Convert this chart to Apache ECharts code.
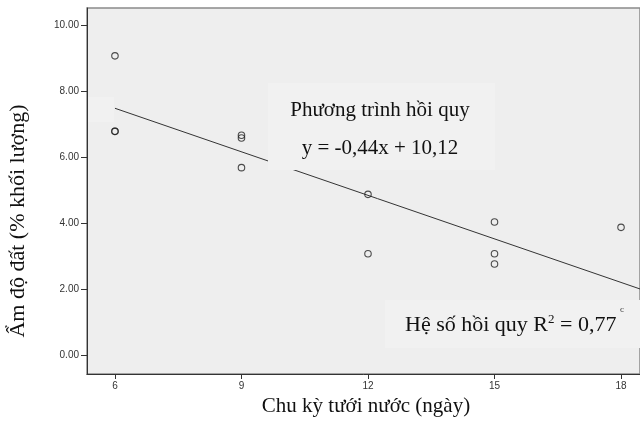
<!DOCTYPE html>
<html>
<head>
<meta charset="utf-8">
<script src="https://cdn.jsdelivr.net/npm/echarts@6/dist/echarts.min.js"></script>
<style>
html,body{margin:0;padding:0;background:#fff;}
#chart{width:640px;height:421px;}
</style>
</head>
<body>
<div id="chart"></div>
<script>
// Data
const cycleDays = [6, 6, 6, 9, 9, 9, 12, 12, 15, 15, 15, 18];
const soilMoisture = [9.07, 6.78, 6.78, 6.66, 6.58, 5.68, 4.87, 3.07, 4.03, 3.07, 2.76, 3.87];
const xTicks = [6, 9, 12, 15, 18];
const yTicks = [0, 2, 4, 6, 8, 10];
const regSlope = -0.44;
const regIntercept = 10.12;
const regXRange = [6, 18.45];
const xTitle = 'Chu kỳ tưới nước (ngày)';
const yTitle = 'Ẩm độ đất (% khối lượng)';

const points = cycleDays.map((x, i) => [x, soilMoisture[i]]);
const regLine = regXRange.map(x => [x, regSlope * x + regIntercept]);

const chart = echarts.init(document.getElementById('chart'), null, {renderer: 'canvas'});
const serif = '"Liberation Serif", "Times New Roman", serif';
const sans = '"Liberation Sans", Arial, sans-serif';

chart.setOption({
  animation: false,
  backgroundColor: '#ffffff',
  grid: {
    left: 87, top: 8, right: -2, bottom: 47,
    show: true, backgroundColor: '#eeeeee', borderColor: '#8a8a8a', borderWidth: 1.5
  },
  xAxis: {
    type: 'value', min: 5.337, max: 18.45,
    axisLine: {show: true, onZero: false, lineStyle: {color: '#333', width: 1}},
    axisTick: {show: true, length: 5, lineStyle: {color: '#333'}, customValues: xTicks},
    axisLabel: {customValues: xTicks, margin: 7, fontFamily: sans, fontSize: 10, color: '#333'},
    splitLine: {show: false}
  },
  yAxis: {
    type: 'value', min: -0.576, max: 10.52,
    axisLine: {show: true, onZero: false, lineStyle: {color: '#333', width: 1}},
    axisTick: {show: true, length: 6, lineStyle: {color: '#333'}, customValues: yTicks},
    axisLabel: {customValues: yTicks, margin: 8, fontFamily: sans, fontSize: 10, color: '#333',
      formatter: v => v.toFixed(2)},
    splitLine: {show: false}
  },
  series: [
    {
      type: 'line', data: regLine, symbol: 'none', z: 2,
      lineStyle: {color: '#333', width: 1}
    },
    {
      type: 'scatter', data: points, symbol: 'circle', symbolSize: 6.5, z: 3,
      itemStyle: {color: 'rgba(0,0,0,0)', borderColor: '#222', borderWidth: 1.1}
    }
  ],
  graphic: [
    {type: 'rect', z: 50, shape: {x: 88, y: 97, width: 26, height: 25}, style: {fill: '#f1f1f1'}},
    {type: 'rect', z: 50, shape: {x: 268, y: 83, width: 227, height: 87}, style: {fill: '#f1f1f1'}},
    {type: 'rect', z: 50, shape: {x: 385, y: 300, width: 256, height: 48}, style: {fill: '#f1f1f1'}},
    {type: 'text', z: 60, x: 380, y: 110, style: {text: 'Phương trình hồi quy', font: '21px ' + serif,
      fill: '#111', align: 'center', verticalAlign: 'middle'}},
    {type: 'text', z: 60, x: 380, y: 148, style: {text: 'y = -0,44x + 10,12', font: '21px ' + serif,
      fill: '#111', align: 'center', verticalAlign: 'middle'}},
    {type: 'text', z: 60, x: 405, y: 325, style: {
      text: '{a|Hệ số hồi quy R}{s|2}{a| = 0,77}',
      align: 'left', verticalAlign: 'middle',
      rich: {
        a: {fontFamily: serif, fontSize: 22, fill: '#111', color: '#111'},
        s: {fontFamily: serif, fontSize: 13, fill: '#111', color: '#111', verticalAlign: 'top', padding: [0, 0, 10, 0]}
      }}},
    {type: 'text', z: 60, x: 622, y: 310, style: {text: 'c', font: '9px ' + serif, fill: '#333',
      align: 'center', verticalAlign: 'middle'}},
    {type: 'text', z: 60, x: 366, y: 406, style: {text: xTitle, font: '21px ' + serif,
      fill: '#111', align: 'center', verticalAlign: 'middle'}},
    {type: 'text', z: 60, x: 18, y: 221, rotation: Math.PI / 2, style: {text: yTitle, font: '22px ' + serif,
      fill: '#111', align: 'center', verticalAlign: 'middle'}}
  ]
});
</script>
</body>
</html>
